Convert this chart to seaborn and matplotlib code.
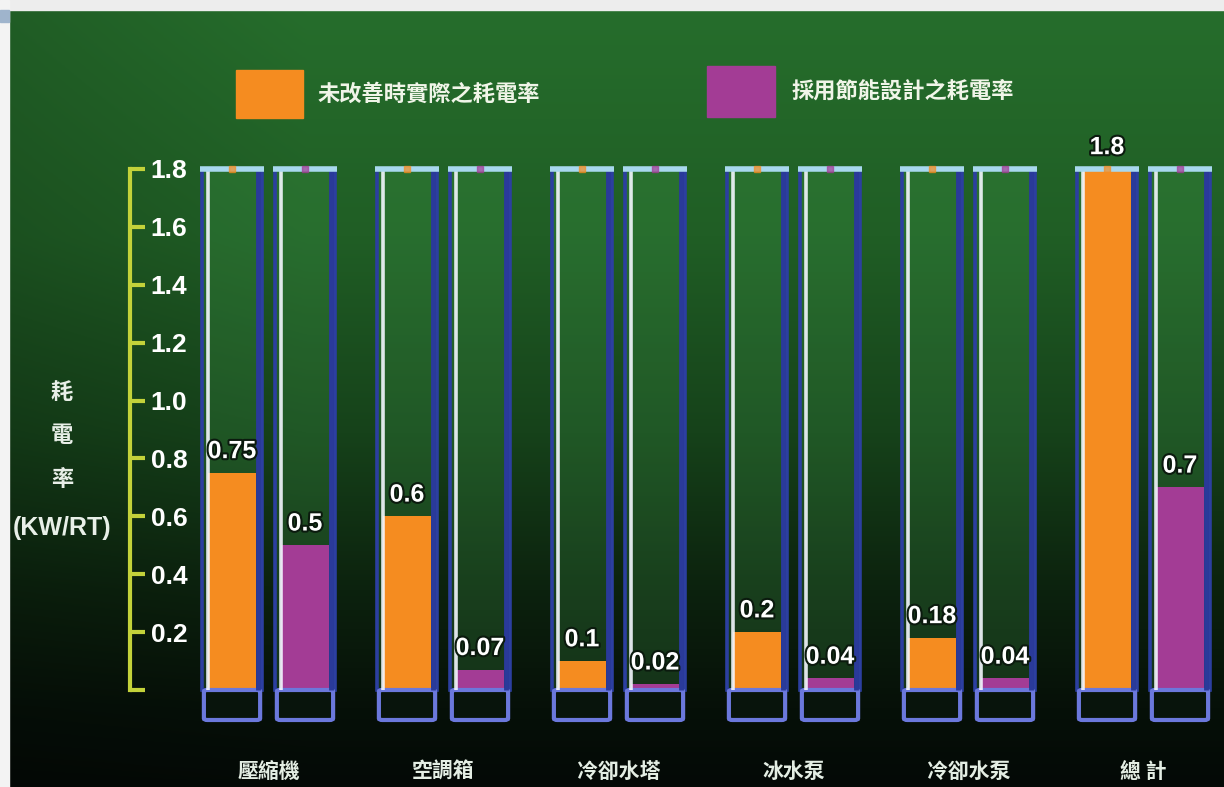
import numpy as np
import pandas as pd
import matplotlib
matplotlib.use("Agg")
import matplotlib.pyplot as plt
import seaborn as sns
from matplotlib.patches import Rectangle, FancyBboxPatch
from matplotlib import patheffects as pe
from matplotlib import font_manager as fm

# ---------------- data ----------------
categories = ["壓縮機", "空調箱", "冷卻水塔", "冰水泵", "冷卻水泵", "總 計"]
series_names = ["未改善時實際之耗電率", "採用節能設計之耗電率"]
before_values = [0.75, 0.6, 0.1, 0.2, 0.18, 1.8]
after_values = [0.5, 0.07, 0.02, 0.04, 0.04, 0.7]
before_labels = ["0.75", "0.6", "0.1", "0.2", "0.18", "1.8"]
after_labels = ["0.5", "0.07", "0.02", "0.04", "0.04", "0.7"]
y_ticks = [0.0, 0.2, 0.4, 0.6, 0.8, 1.0, 1.2, 1.4, 1.6, 1.8]
y_tick_labels = ["", "0.2", "0.4", "0.6", "0.8", "1.0", "1.2", "1.4", "1.6", "1.8"]
y_label_chars = ["耗", "電", "率"]
y_label_unit = "(KW/RT)"
series_colors = ["#f58c20", "#a33c95"]

# ---------------- fonts ----------------
sns.set_style("white")
names = {f.name for f in fm.fontManager.ttflist}
NUM_FONT = "Liberation Sans Narrow" if "Liberation Sans Narrow" in names else "Liberation Sans"
CJK = "Noto Sans CJK TC"
plt.rcParams["font.family"] = [CJK, "DejaVu Sans"]

df = pd.DataFrame({
    "category": categories * 2,
    "series": [series_names[0]] * len(categories) + [series_names[1]] * len(categories),
    "value": before_values + after_values,
})
df["tube"] = y_ticks[-1]

W, H = 1224, 787
fig = plt.figure(figsize=(W / 100, H / 100), dpi=100)

# background gradient
bg = fig.add_axes([0, 0, 1, 1], zorder=-5)
yy = np.linspace(0, 1, 400)[:, None]        # 0 top -> 1 bottom
xx = np.linspace(0, 1, 300)[None, :]
kp = [0.0, 0.3, 0.55, 0.75, 0.9, 1.0]
r = np.interp(yy, kp, [38, 32, 22, 12, 6, 4])
g = np.interp(yy, kp, [110, 94, 66, 34, 16, 9])
b = np.interp(yy, kp, [44, 37, 26, 14, 8, 6])
shade = 0.85 + 0.15 * np.clip(xx * 4, 0, 1)
img = np.dstack([r * shade, g * shade, b * shade]) / 255.0
bg.imshow(np.clip(img, 0, 1), aspect="auto", extent=[0, 1, 0, 1])
bg.set_axis_off()

# gray strips at top and left
fig.add_artist(Rectangle((0, 1 - 10 / H), 1, 10 / H, transform=fig.transFigure,
                         color="#ededed", zorder=10))
fig.add_artist(Rectangle((0, 0), 9 / W, 1, transform=fig.transFigure,
                         color="#f3f3f3", zorder=10))
fig.add_artist(Rectangle((0, 1 - 22 / H), 9 / W, 12 / H, transform=fig.transFigure,
                         color="#9fb4cc", zorder=11))

# main axes
ax_left, ax_right, ax_top, ax_bot = 130, 1219, 130, 730
ax = fig.add_axes([ax_left / W, (H - ax_bot) / H, (ax_right - ax_left) / W,
                   (ax_bot - ax_top) / H])
ax.patch.set_alpha(0)

px_per_cat = 175.0
first_center = 268.5
y0_px, px_per_unit = 690.0, 289.5

# tubes
tube_pal = {s: "#3c9a48" for s in series_names}
sns.barplot(data=df, x="category", y="tube", hue="series", palette=tube_pal,
            width=0.834, gap=0.18, legend=False, ax=ax, saturation=1,
            edgecolor="#2c3fa0", linewidth=2.6, zorder=1)
tube_patches = list(ax.patches)
for p in tube_patches:
    p.set_facecolor((0.28, 0.66, 0.32, 0.22))

# fills
sns.barplot(data=df, x="category", y="value", hue="series", palette=series_colors,
            width=0.834, gap=0.34, legend=False, ax=ax, linewidth=0, zorder=2,
            saturation=1)
fill_patches = list(ax.patches)[len(tube_patches):]

cap_depth = 30 / px_per_unit
for i, p in enumerate(tube_patches):
    x0 = p.get_x()
    w = p.get_width()
    top = p.get_height()
    col = series_colors[i // len(categories)]
    # inner white highlight line
    ax.vlines(x0 + w * 0.1, 0, top, color="#f4f7ff", lw=2.6, alpha=0.9, zorder=3)
    # right darker blue thick edge
    ax.vlines(x0 + w * 0.94, 0, top, color="#2a3a9a", lw=3.5, zorder=3)
    # top cap
    ax.hlines(top, x0 - w * 0.04, x0 + w * 1.04, color="#a8d8ee", lw=4, zorder=5)
    ax.plot([x0 + w / 2], [top], marker="s", ms=4, color=col, alpha=0.7, zorder=6)
    # bottom cap
    cap = FancyBboxPatch((x0 + w * 0.03, -cap_depth), w * 0.94, cap_depth,
                         boxstyle="round,pad=0,rounding_size=0.02",
                         mutation_aspect=1 / 3.5,
                         facecolor="#08140c", edgecolor="#6b78dc", lw=3, zorder=2)
    ax.add_patch(cap)

# value labels
all_labels = before_labels + after_labels
for p, lab in zip(fill_patches, all_labels):
    cx = p.get_x() + p.get_width() / 2
    ax.annotate(lab, (cx, p.get_height()), xytext=(0, 7), textcoords="offset points",
                ha="center", va="bottom", color="white", fontsize=18,
                fontweight="bold", family=[NUM_FONT, "DejaVu Sans"], zorder=7,
                path_effects=[pe.withStroke(linewidth=3, foreground="#0b1a0e")])

# axes limits mapping
xl = -(first_center - ax_left) / px_per_cat
ax.set_xlim(xl, xl + (ax_right - ax_left) / px_per_cat)
ax.set_ylim(-(ax_bot - y0_px) / px_per_unit, (y0_px - ax_top) / px_per_unit)

# y axis styling
axis_col = "#c3d23a"
for s in ["top", "right", "bottom"]:
    ax.spines[s].set_visible(False)
ax.spines["left"].set_color(axis_col)
ax.spines["left"].set_linewidth(3)
ax.spines["left"].set_bounds(y_ticks[0], y_ticks[-1])
ax.set_yticks(y_ticks)
ax.set_yticklabels(y_tick_labels)
ax.tick_params(axis="y", left=True, direction="in", length=11, width=3, color=axis_col,
               pad=-15, labelcolor="white")
for lab in ax.get_yticklabels():
    lab.set_horizontalalignment("left")
    lab.set_fontfamily([NUM_FONT, "DejaVu Sans"])
    lab.set_fontsize(19)
    lab.set_fontweight("bold")

ax.tick_params(axis="x", bottom=False, length=0, pad=22, labelcolor="#e4eee4",
               labelsize=15)
for lab in ax.get_xticklabels():
    lab.set_fontweight("bold")
ax.set_xlabel("")
ax.set_ylabel("")

# y label
for txt, ypx in zip(y_label_chars, [392, 436, 479]):
    fig.text(62 / W, 1 - ypx / H, txt, ha="center", va="center", color="#e8efe8",
             fontsize=16, fontweight="bold")
fig.text(62 / W, 1 - 528 / H, y_label_unit, ha="center", va="center", color="#e8efe8",
         fontsize=18, fontweight="bold", family=[NUM_FONT, "DejaVu Sans"])

# legend
leg_boxes = [(236, 70, 67, 48), (707, 66, 68, 51)]
leg_text_x = [318, 792]
for (lx, ly, lw_, lh), tx, name, col in zip(leg_boxes, leg_text_x, series_names, series_colors):
    fig.add_artist(Rectangle((lx / W, 1 - (ly + lh) / H), lw_ / W, lh / H,
                             transform=fig.transFigure, color=col, zorder=5))
    fig.text(tx / W, 1 - (ly + lh / 2) / H, name, ha="left", va="center",
             color="#f0f5e8", fontsize=16, fontweight="bold")

fig.savefig("out.png", dpi=100)
